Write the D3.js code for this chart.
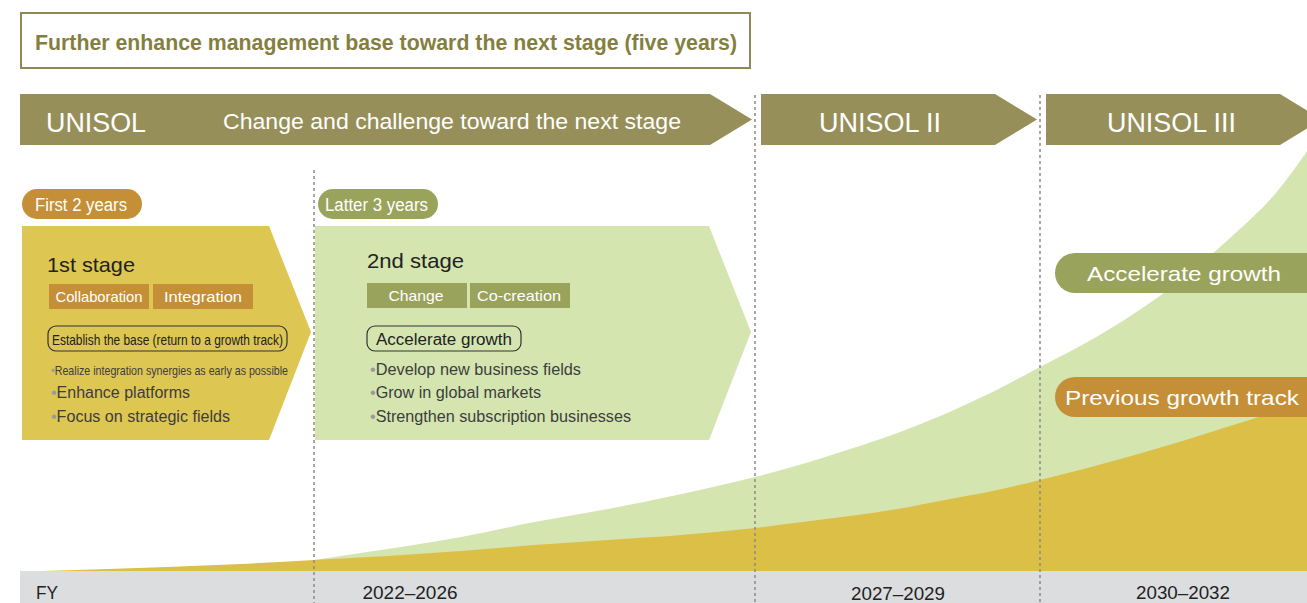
<!DOCTYPE html>
<html><head><meta charset="utf-8">
<script src="https://cdn.jsdelivr.net/npm/d3@7"></script>
<style>html,body{margin:0;padding:0;background:#fff;overflow:hidden}</style>
</head><body>
<script>
// ---------------- DATA ----------------
const headline = "Further enhance management base toward the next stage (five years)";
const periodNames = ["UNISOL", "UNISOL II", "UNISOL III"];
const periodSubtitle = "Change and challenge toward the next stage";
const periodStartYears = [2022, 2027, 2030];
const periodEndYears = [2027, 2030, 2033];
const fyTitle = "FY";
const fyLabels = ["2022–2026", "2027–2029", "2030–2032"];
const stagePeriods = ["First 2 years", "Latter 3 years"];
const stageStartYears = [2022, 2024];
const stageEndYears = [2024, 2027];
const stageNames = ["1st stage", "2nd stage"];
const stageTags = [["Collaboration", "Integration"], ["Change", "Co-creation"]];
const stageGoals = ["Establish the base (return to a growth track)", "Accelerate growth"];
const stageBullets = [
  ["Realize integration synergies as early as possible", "Enhance platforms", "Focus on strategic fields"],
  ["Develop new business fields", "Grow in global markets", "Strengthen subscription businesses"]
];
const trackLabels = ["Accelerate growth", "Previous growth track"];
// growth index (arbitrary units)
const acceleratedYears = [2024, 2024.5, 2025, 2025.5, 2026, 2026.5, 2027, 2027.5, 2028, 2028.5, 2029, 2029.5, 2030, 2030.5, 2031, 2031.5, 2032, 2032.5, 2032.9];
const acceleratedTrack = [11, 22, 34, 49, 62, 77, 94, 107, 122, 138, 157, 179, 204, 229, 258, 292, 333, 380, 432];
const previousYears = [2022.15, 2022.5, 2023, 2023.5, 2024, 2024.5, 2025, 2025.5, 2026, 2026.5, 2027, 2027.5, 2028, 2028.5, 2029, 2029.5, 2030, 2030.5, 2031, 2031.5, 2032, 2032.5, 2032.9];
const previousTrack = [0, 1.5, 4, 7, 11, 15, 20, 26, 31, 36, 43, 49, 55, 62, 71, 80, 91, 103, 116, 130, 145, 160, 172];

// ---------------- LAYOUT ----------------
const W = 1307, H = 603;
const C = {
  olive: "#978f5a", titleText: "#857f3f", border: "#8e8a55",
  orange: "#c48f37", greenTag: "#9aa35b", gold: "#dcbf47", stage1: "#ddc652",
  lightGreen: "#d4e5b0", band: "#dcdddf", dash: "#8a8a8a", dark: "#222", body: "#3d3d3d", dot: "#9a9a9a"
};
const SANS = "'Liberation Sans', Arial, sans-serif";
const NARROW = "'Liberation Sans Narrow', 'Liberation Sans', Arial, sans-serif";

const svg = d3.select("body").append("svg").attr("width", W).attr("height", H)
  .attr("viewBox", `0 0 ${W} ${H}`);
svg.append("defs").append("clipPath").attr("id", "clip")
  .append("rect").attr("x", 0).attr("y", 0).attr("width", W).attr("height", H);
const root = svg.append("g").attr("clip-path", "url(#clip)");

const x = d3.scaleLinear().domain([2022, 2024, 2027, 2030, 2033]).range([20, 314, 755, 1040, 1325]);
const y = d3.scaleLinear().domain([0, 426]).range([571, 145]);

function txt(g, s, px, py, opt) {
  const t = g.append("text").attr("x", px).attr("y", py)
    .attr("font-family", opt.font || SANS).attr("font-size", opt.size)
    .attr("fill", opt.fill || C.dark).attr("font-weight", opt.weight || "normal")
    .attr("text-anchor", opt.anchor || "start").text(s);
  if (opt.len) t.attr("textLength", opt.len).attr("lengthAdjust", "spacingAndGlyphs");
  return t;
}

// ---- growth areas ----
const accArea = d3.area().x((d, i) => x(acceleratedYears[i])).y0(y(0)).y1(d => y(d)).curve(d3.curveMonotoneX);
const prevArea = d3.area().x((d, i) => x(previousYears[i])).y0(y(0)).y1(d => y(d)).curve(d3.curveMonotoneX);
root.append("path").attr("d", accArea(acceleratedTrack)).attr("fill", C.lightGreen);
root.append("path").attr("d", prevArea(previousTrack)).attr("fill", C.gold);

// ---- FY band ----
root.append("rect").attr("x", x(2022)).attr("y", y(0)).attr("width", W - x(2022) + 10).attr("height", H - y(0)).attr("fill", C.band);
txt(root, fyTitle, 36, 599, {font: NARROW, size: 18, len: 22});
const fyCenters = [410, 898, 1183];
const fyLens = [95, 94, 94];
const fyBase = [599, 600, 599];
fyLabels.forEach((s, i) => txt(root, s, fyCenters[i], fyBase[i], {font: NARROW, size: 18, anchor: "middle", len: fyLens[i]}));

// ---- dashed dividers ----
[[2024, 170], [2027, 95], [2030, 95]].forEach(([yr, top]) => {
  root.append("line").attr("x1", x(yr)).attr("x2", x(yr)).attr("y1", top).attr("y2", H)
    .attr("stroke", C.dash).attr("stroke-width", 1.5).attr("stroke-dasharray", "3,3");
});

// ---- headline box ----
root.append("rect").attr("x", 21).attr("y", 13).attr("width", 729).attr("height", 55)
  .attr("fill", "#fff").attr("stroke", C.border).attr("stroke-width", 2);
txt(root, headline, 35, 50, {font: NARROW, size: 22, weight: "bold", fill: C.titleText, len: 702});

// ---- period arrows ----
const aTop = 94, aBot = 145, aMid = (aTop + aBot) / 2, depth = 42;
const startOff = [0, 6, 6];
const nameLens = [100, 122, 129];
const nameX = [46, 819, 1107];
periodNames.forEach((n, i) => {
  const x0 = x(periodStartYears[i]) + startOff[i];
  const tip = x(periodEndYears[i]) - 3;
  const pts = [[x0, aTop], [tip - depth, aTop], [tip, aMid], [tip - depth, aBot], [x0, aBot]];
  root.append("path").attr("d", d3.line()(pts) + "Z").attr("fill", C.olive);
  txt(root, n, nameX[i], 132, {font: NARROW, size: 27, fill: "#fff", len: nameLens[i]});
});
txt(root, periodSubtitle, 223, 129, {font: NARROW, size: 22, fill: "#fff", len: 458});

// ---- stages ----
const sTop = 226, sBot = 440, sMid = 332, sDepth = 42;
const stageFill = [C.stage1, C.lightGreen];
const pillFill = [C.orange, C.greenTag];
const tagFill = [C.orange, C.greenTag];
const sx0 = [x(stageStartYears[0]) + 2, x(stageStartYears[1]) + 1];
const sTip = [x(stageEndYears[0]) - 3, x(stageEndYears[1]) - 4];
const pillX = [22, 318], pillW = [120, 120];
const pillTextX = [35, 325], pillLen = [92, 103];
const contentX = [47, 367];
const nameLen = [88, 97], nameBase = [272, 268];
const tagX = [[49, 153], [367, 470]], tagW = 100;
const tagTextLen = [[87, 78], [55, 84]];
const tagTop = [284, 283];
const goalW = [239, 154], goalLen = [231, 136];
const goalSize = [15, 16];
const bulletLens = [[237, 139, 179], [211, 171, 261]];
const bulletSizes = [[13, 16, 16], [16, 16, 16]];
const bulletFont = [[NARROW, SANS, SANS], [SANS, SANS, SANS]];
const bulletBase = [375, 398, 422];

stageNames.forEach((n, i) => {
  const g = root.append("g");
  // period pill
  g.append("rect").attr("x", pillX[i]).attr("y", 189).attr("width", pillW[i]).attr("height", 30)
    .attr("rx", 15).attr("fill", pillFill[i]);
  txt(g, stagePeriods[i], pillTextX[i], 211, {font: NARROW, size: 18, fill: "#fff", len: pillLen[i]});
  // chevron box
  const pts = [[sx0[i], sTop], [sTip[i] - sDepth, sTop], [sTip[i], sMid], [sTip[i] - sDepth, sBot], [sx0[i], sBot]];
  g.append("path").attr("d", d3.line()(pts) + "Z").attr("fill", stageFill[i]);
  // name
  txt(g, n, contentX[i], nameBase[i], {size: 21, fill: C.dark, len: nameLen[i]});
  // tags
  stageTags[i].forEach((t, j) => {
    g.append("rect").attr("x", tagX[i][j]).attr("y", tagTop[i]).attr("width", tagW).attr("height", 25).attr("fill", tagFill[i]);
    txt(g, t, tagX[i][j] + tagW / 2 + (i === 0 ? 0 : -1), tagTop[i] + 18, {size: 15, fill: "#fff", anchor: "middle", len: tagTextLen[i][j]});
  });
  // goal
  const gx = contentX[i] + (i === 0 ? 1 : 0);
  g.append("rect").attr("x", gx).attr("y", 326).attr("width", goalW[i]).attr("height", 25)
    .attr("rx", 8).attr("fill", "none").attr("stroke", "#333").attr("stroke-width", 1.2);
  txt(g, stageGoals[i], gx + goalW[i] / 2, 345, {font: i === 0 ? NARROW : SANS, size: goalSize[i], fill: C.dark, anchor: "middle", len: goalLen[i]});
  // bullets
  stageBullets[i].forEach((b, j) => {
    const t = g.append("text").attr("x", contentX[i] + (i === 0 ? 4 : 3)).attr("y", bulletBase[j])
      .attr("font-family", bulletFont[i][j]).attr("font-size", bulletSizes[i][j]).attr("fill", C.body)
      .attr("textLength", bulletLens[i][j]).attr("lengthAdjust", "spacingAndGlyphs");
    t.append("tspan").attr("fill", C.dot).text("•");
    t.append("tspan").text(b);
  });
});

// ---- track labels ----
const trackFill = [C.greenTag, C.orange];
const trackTop = [253, 377];
const trackLen = [194, 234];
const trackTextX = [1184, 1182];
trackLabels.forEach((s, i) => {
  root.append("rect").attr("x", 1055).attr("y", trackTop[i]).attr("width", 290).attr("height", 40)
    .attr("rx", 20).attr("fill", trackFill[i]);
  txt(root, s, trackTextX[i], trackTop[i] + 28, {size: 21, fill: "#fff", anchor: "middle", len: trackLen[i]});
});
</script>
</body></html>
